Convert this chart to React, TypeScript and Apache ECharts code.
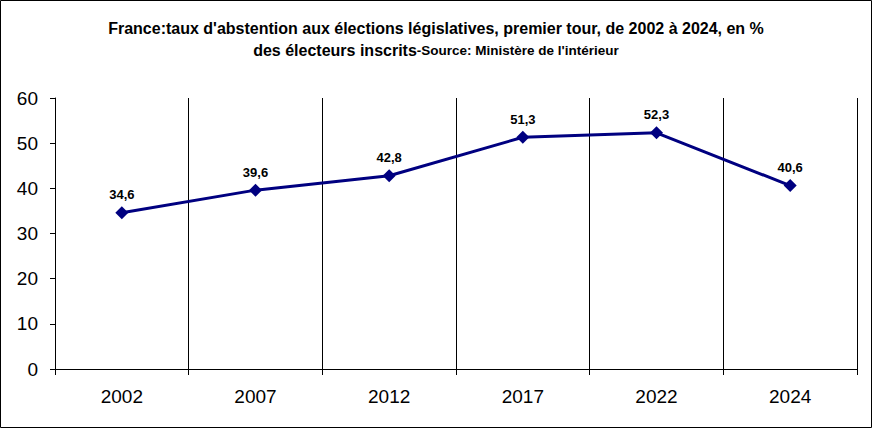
import React, { useEffect, useRef } from "react";
import * as echarts from "echarts";

const years = ["2002", "2007", "2012", "2017", "2022", "2024"];
const abstention = [34.6, 39.6, 42.8, 51.3, 52.3, 40.6];
const titleLine1 = "France:taux d'abstention aux élections législatives, premier tour, de 2002 à 2024, en %";
const titleLine2 = "des électeurs inscrits";
const sourceText = "-Source: Ministère de l'intérieur";

export default function App() {
  const ref = useRef<HTMLDivElement>(null);
  useEffect(() => {
    document.body.style.margin = "0";
    const chart = echarts.init(ref.current!, null, { renderer: "svg" });
    const sans = "'Liberation Sans', Arial, sans-serif";
    chart.setOption({
      animation: false,
      backgroundColor: "#ffffff",
      title: {
        left: "center",
        top: 12,
        text: `{a|${titleLine1}}\n{a|${titleLine2}}{b|${sourceText}}`,
        textStyle: {
          rich: {
            a: { fontFamily: sans, fontWeight: "bold", fontSize: 16, color: "#000", lineHeight: 22 },
            b: { fontFamily: sans, fontWeight: "bold", fontSize: 13.5, color: "#000", lineHeight: 22 },
          },
        },
      },
      grid: { left: 55, right: 15, top: 98, bottom: 59, containLabel: false },
      xAxis: {
        type: "category",
        data: years,
        boundaryGap: true,
        axisLine: { show: true, lineStyle: { color: "#000", width: 1 } },
        axisTick: { show: true, length: 6, lineStyle: { color: "#000" } },
        splitLine: { show: true, lineStyle: { color: "#000", width: 1 } },
        axisLabel: { color: "#000", fontSize: 19, fontFamily: sans, margin: 18 },
      },
      yAxis: {
        type: "value",
        min: 0,
        max: 60,
        interval: 10,
        axisLine: { show: true, lineStyle: { color: "#000", width: 1 } },
        axisTick: { show: true, length: 5, lineStyle: { color: "#000" } },
        splitLine: { show: false },
        axisLabel: { color: "#000", fontSize: 19, fontFamily: sans, margin: 17 },
      },
      series: [
        {
          type: "line",
          data: abstention,
          symbol: "diamond",
          symbolSize: 13,
          lineStyle: { color: "#000080", width: 3 },
          itemStyle: { color: "#000080" },
          label: {
            show: true,
            position: "top",
            distance: 5,
            color: "#000",
            fontSize: 13,
            fontWeight: "bold",
            fontFamily: sans,
            formatter: (p: any) => String(p.value).replace(".", ","),
          },
        },
      ],
      graphic: [
        {
          type: "rect",
          shape: { x: 0.5, y: 0.5, width: 871, height: 427 },
          style: { fill: "none", stroke: "#000", lineWidth: 1 },
          silent: true,
        },
      ],
    });
    return () => chart.dispose();
  }, []);
  return <div ref={ref} style={{ width: 872, height: 428 }} />;
}
